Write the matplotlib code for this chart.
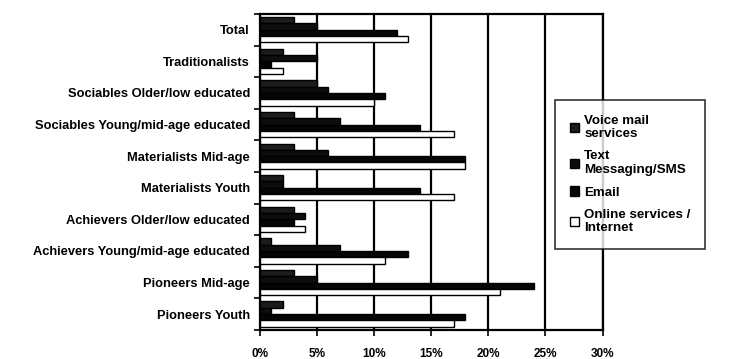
import numpy as np
import matplotlib
matplotlib.use('Agg')
import matplotlib.pyplot as plt
from matplotlib.ticker import FixedLocator, PercentFormatter

categories = ['Total', 'Traditionalists', 'Sociables Older/low educated',
              'Sociables Young/mid-age educated', 'Materialists Mid-age',
              'Materialists Youth', 'Achievers Older/low educated',
              'Achievers Young/mid-age educated', 'Pioneers Mid-age',
              'Pioneers Youth']
series_names = ['Voice mail\nservices', 'Text\nMessaging/SMS', 'Email',
                'Online services /\nInternet']
voice_mail = [3, 2, 5, 3, 3, 2, 3, 1, 3, 2]
text_sms = [5, 5, 6, 7, 6, 2, 4, 7, 5, 1]
email = [12, 1, 11, 14, 18, 14, 3, 13, 24, 18]
online = [13, 2, 10, 17, 18, 17, 4, 11, 21, 17]
x_ticks = [0, 5, 10, 15, 20, 25, 30]

plt.rcParams['font.family'] = ['Liberation Sans', 'DejaVu Sans']

fig = plt.figure(figsize=(7.42, 3.59), dpi=100)
ax = fig.add_axes([0.350, 0.081, 0.462, 0.880])

y = np.arange(len(categories))
h = 0.2
fills = ['#1c1c1c', '#0d0d0d', '#050505', 'white']
for i, (vals, name, col) in enumerate(zip([voice_mail, text_sms, email, online],
                                          series_names, fills)):
    ax.barh(y + (i - 1.5) * h, vals, height=h, label=name,
            color=col, edgecolor='black', linewidth=1.0, zorder=3)

ax.set_xlim(0, 30)
ax.set_ylim(len(categories) - 0.5, -0.5)
ax.xaxis.set_major_locator(FixedLocator(x_ticks))
ax.xaxis.set_major_formatter(PercentFormatter(decimals=0))
ax.grid(axis='x', color='black', linewidth=1.6, zorder=1)

ax.set_yticks(y)
ax.set_yticklabels(categories, fontweight='bold')
ax.set_yticks(np.arange(-0.5, len(categories), 1), minor=True)
ax.tick_params(axis='y', which='major', length=0, pad=7, labelsize=9.3)
ax.tick_params(axis='y', which='minor', length=4, width=1.2)
ax.tick_params(axis='x', length=4, width=1.2, pad=9, labelsize=8.5)
for lab in ax.get_xticklabels():
    lab.set_fontweight('bold')

for sp in ax.spines.values():
    sp.set_linewidth(1.6)
    sp.set_color('black')

leg = fig.legend(loc='upper left', bbox_to_anchor=(555 / 742, 1 - 100 / 359),
                 prop={'size': 9.6, 'weight': 'bold'}, frameon=True,
                 fancybox=False, edgecolor='black',
                 handlelength=0.7, handleheight=0.7, handletextpad=0.4,
                 labelspacing=0.75, borderpad=1.1, borderaxespad=0)
leg.get_frame().set_linewidth(1.2)

fig.savefig('out.png', dpi=100)
